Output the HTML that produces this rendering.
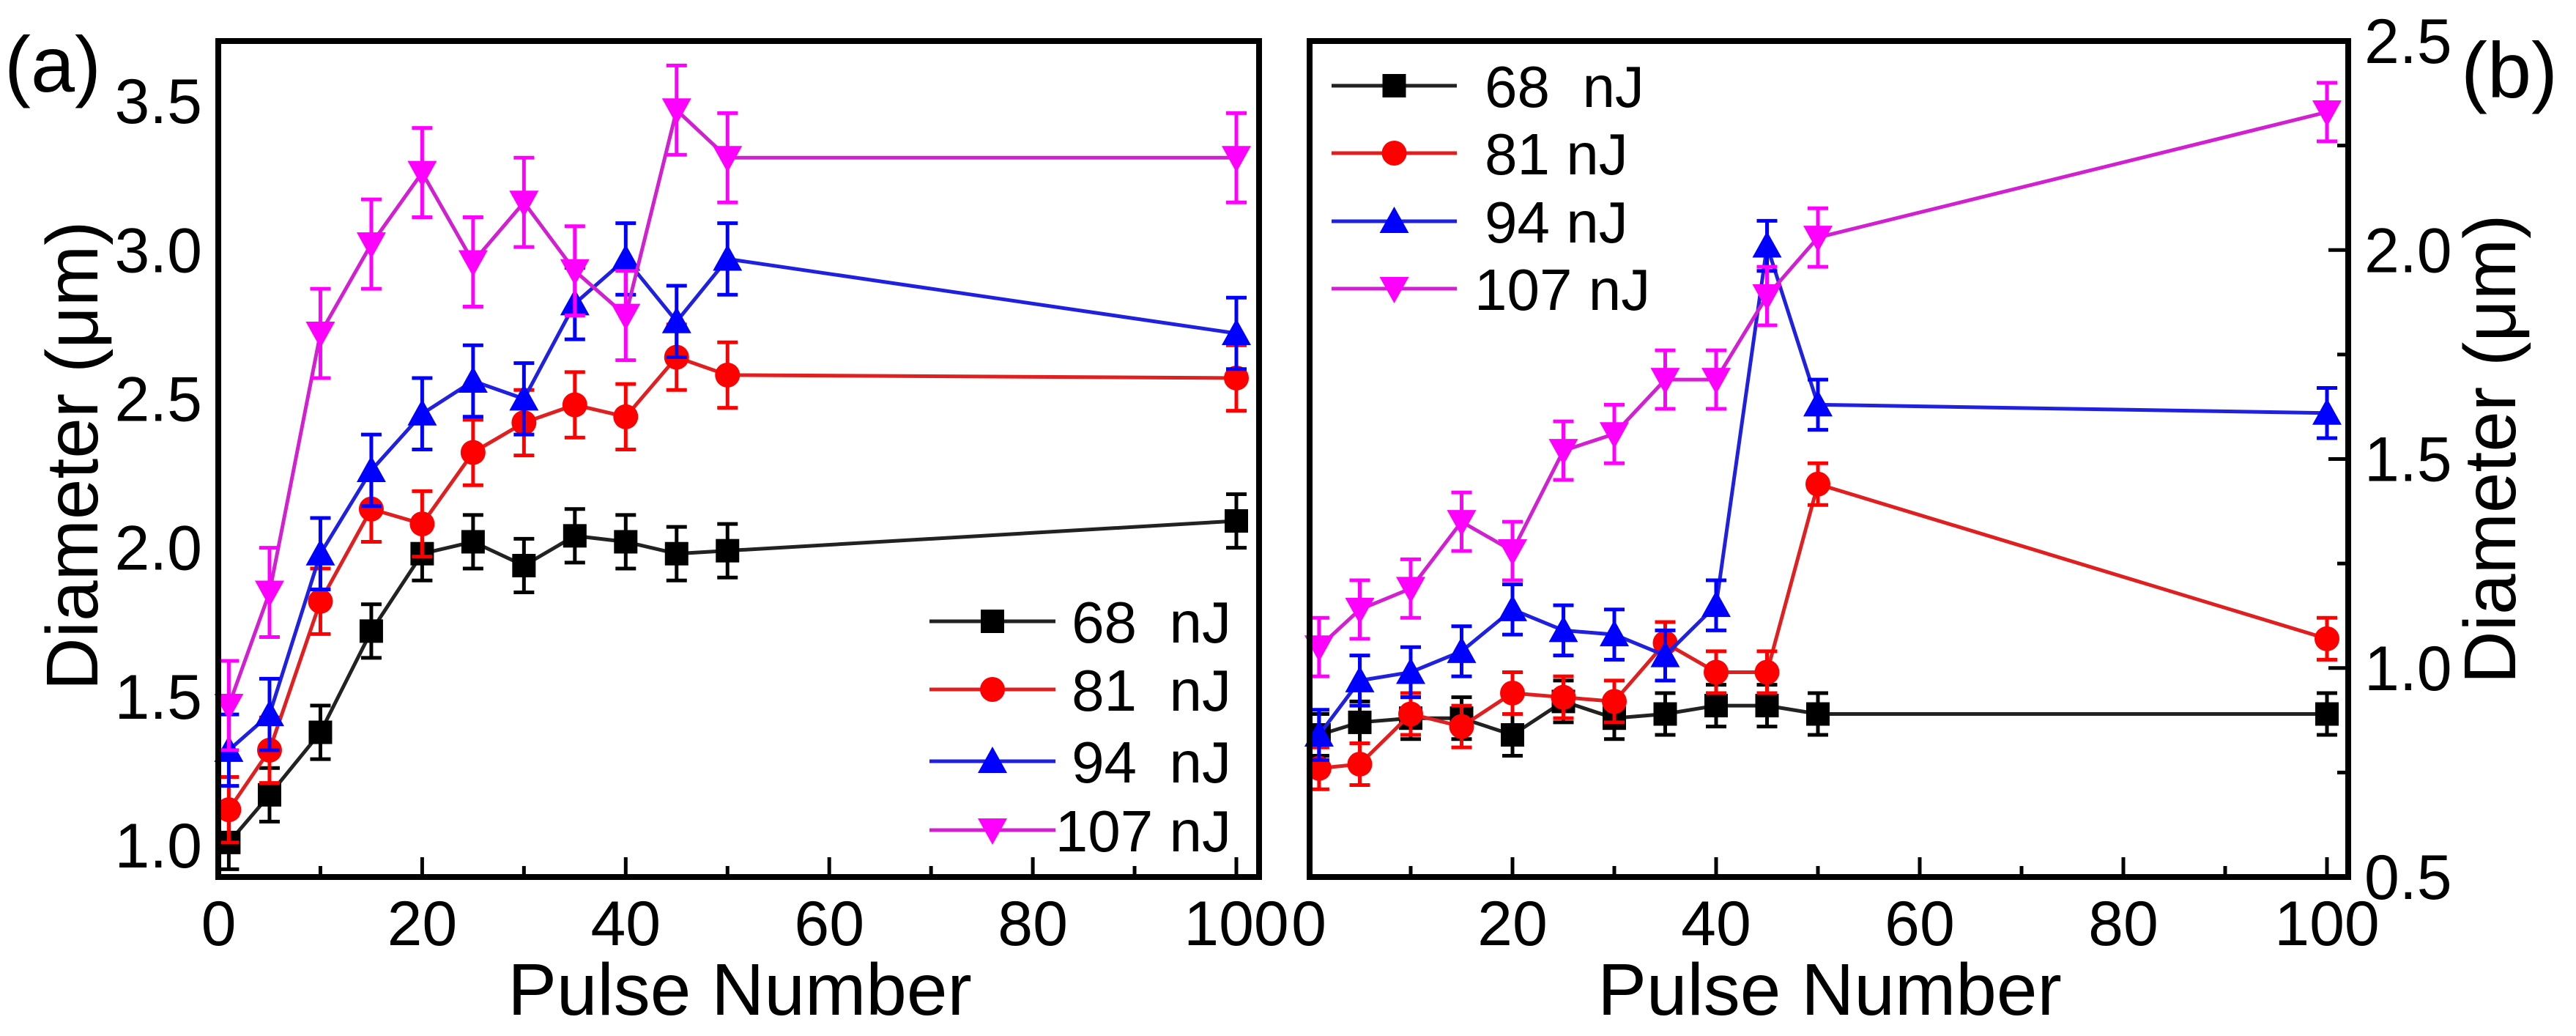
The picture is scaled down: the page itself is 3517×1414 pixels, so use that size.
<!DOCTYPE html>
<html><head><meta charset="utf-8"><style>
html,body{margin:0;padding:0;background:#fff;}
svg{display:block;font-family:"Liberation Sans",Arial,sans-serif;}
</style></head><body>
<svg id="fig" width="3517" height="1414" viewBox="0 0 3517 1414" xmlns="http://www.w3.org/2000/svg"></svg>
<script>
const pulses = [1,5,10,15,20,25,30,35,40,45,50,100];
const seriesNames = ["68\u00a0\u00a0nJ","81\u00a0\u00a0nJ","94\u00a0\u00a0nJ","107\u00a0nJ"];
const seriesNamesB = ["68\u00a0\u00a0nJ","81\u00a0nJ","94\u00a0nJ","107\u00a0nJ"];
const colors = ["#000000","#ff0000","#0000ff","#ff00ff"];
const lineColors = ["#222222","#e02020","#2020e0","#d020d0"];
const markers = ["square","circle","up","down"];
const a68 = [1.01,1.17,1.38,1.72,1.98,2.02,1.94,2.04,2.02,1.98,1.99,2.09];
const a81 = [1.12,1.32,1.82,2.13,2.08,2.32,2.42,2.48,2.44,2.64,2.58,2.57];
const a94 = [1.32,1.44,1.98,2.26,2.45,2.56,2.50,2.82,2.97,2.76,2.97,2.72];
const a107 = [1.47,1.85,2.72,3.02,3.26,2.96,3.16,2.93,2.78,3.47,3.31,3.31];
const aErr = [0.09,0.11,0.12,0.15];
const b68 = [0.84,0.87,0.88,0.88,0.84,0.92,0.88,0.89,0.91,0.91,0.89,0.89];
const b81 = [0.76,0.77,0.89,0.86,0.94,0.93,0.92,1.06,0.99,0.99,1.44,1.07];
const b94 = [0.84,0.97,0.99,1.04,1.14,1.09,1.08,1.03,1.15,2.01,1.63,1.61];
const b107 = [1.05,1.14,1.19,1.35,1.28,1.52,1.56,1.69,1.69,1.89,2.03,2.33];
const bErr = [0.05,0.05,0.06,0.07];
const xTicks = [0,20,40,60,80,100];
const aYTicks = ["1.0","1.5","2.0","2.5","3.0","3.5"];
const bYTicks = ["0.5","1.0","1.5","2.0","2.5"];

const NS="http://www.w3.org/2000/svg";
const svg=document.getElementById('fig');
function mk(tag,attrs,parent){const e=document.createElementNS(NS,tag);for(const k in attrs)e.setAttribute(k,attrs[k]);(parent||svg).appendChild(e);return e;}

function panel(cfg){
  const g=mk('g',{});
  
  
  const {L,R,T,B}=cfg;
  const sx=v=>cfg.x0px+(v-0)*(cfg.x100px-cfg.x0px)/100;
  const sy=v=>B-(v-cfg.ymin)*(B-T)/(cfg.ymax-cfg.ymin);
  for(let v=0;v<=100;v+=10){
    const x=sx(v);const len=(v%20===0)?27:15;
    const t=mk('line',{x1:x,x2:x,y1:B,y2:B-len,stroke:'#000','stroke-width':5},g);
    
  }
  xTicks.forEach(v=>{
    const tx=mk('text',{x:sx(v),y:1290,'font-size':86,'text-anchor':'middle'},g);
    tx.textContent=v;
    
  });
  for(let v=cfg.ymin;v<=cfg.ymax+1e-9;v+=0.05){
    const r=Math.round(v*100)/100;
    const q=Math.round(r*4)/4; if(Math.abs(q-r)>1e-6) continue;
    const y=sy(q);const major=Math.abs(Math.round(q*2)-q*2)<1e-6;const len=major?27:15;
    const ax=cfg.side==='left'?L:R;const dir=cfg.side==='left'?1:-1;
    const t=mk('line',{x1:ax,x2:ax+dir*len,y1:y,y2:y,stroke:'#000','stroke-width':5},g);
    
  }
  cfg.yTicks.forEach(s=>{
    const v=parseFloat(s);
    const tx=mk('text',cfg.side==='left'?{x:L-22,y:sy(v)+30,'font-size':86,'text-anchor':'end'}:{x:R+22,y:sy(v)+30,'font-size':86,'text-anchor':'start'},g);
    tx.textContent=s;
    
  });
  cfg.data.forEach((vals,si)=>{
    const sg=mk('g',{},g);
    
    
    const pts=vals.map((v,i)=>sx(pulses[i])+','+sy(v)).join(' ');
    mk('polyline',{points:pts,fill:'none',stroke:lineColors[si],'stroke-width':5},sg);
    vals.forEach((v,i)=>{
      const x=sx(pulses[i]);const e=cfg.err[si];
      const y1=sy(v+e),y2=sy(v-e);
      const eb=mk('path',{d:`M${x},${y1}V${y2}M${x-14},${y1}H${x+14}M${x-14},${y2}H${x+14}`,stroke:colors[si],'stroke-width':5,fill:'none'},sg);
      
      const m=drawMarker(markers[si],x,sy(v),colors[si],sg);
      
    });
  });
  const fr=mk('rect',{x:L,y:T,width:R-L,height:B-T,fill:'none',stroke:'#000','stroke-width':8},g);
  
  cfg.legend.ys.forEach((y,si)=>{
    const lg=mk('g',{},g);
    
    mk('line',{x1:cfg.legend.x1,x2:cfg.legend.x2,y1:y,y2:y,stroke:lineColors[si],'stroke-width':5},lg);
    drawMarker(markers[si],(cfg.legend.x1+cfg.legend.x2)/2,y,colors[si],lg);
    const t=mk('text',{x:cfg.legend.tx[si],y:y+29,'font-size':80,'text-anchor':cfg.legend.anchor},lg);
    t.textContent=cfg.legendNames[si];
  });
  return g;
}
function drawMarker(type,x,y,c,parent){
  const s=16;
  if(type==='square')return mk('rect',{x:x-s,y:y-s,width:2*s,height:2*s,fill:c},parent);
  if(type==='circle')return mk('circle',{cx:x,cy:y,r:s+1,fill:c},parent);
  if(type==='up')return mk('polygon',{points:`${x},${y-s-4} ${x+s+4},${y+s} ${x-s-4},${y+s}`,fill:c},parent);
  return mk('polygon',{points:`${x-s-4},${y-s} ${x+s+4},${y-s} ${x},${y+s+4}`,fill:c},parent);
}
panel({name:'panel-a',L:298,R:1719,T:56,B:1197,x0px:298.5,x100px:1688,ymin:0.894,ymax:3.702,
  yTicks:aYTicks,side:'left',data:[a68,a81,a94,a107],err:aErr,
  legend:{x1:1269,x2:1441,tx:[1681,1681,1681,1681],anchor:'end',ys:[848,941,1039,1133]},legendNames:seriesNames});
panel({name:'panel-b',L:1788,R:3206,T:56,B:1197,x0px:1787,x100px:3177,ymin:0.5,ymax:2.5,
  yTicks:bYTicks,side:'right',data:[b68,b81,b94,b107],err:bErr,
  legend:{x1:1818,x2:1989,tx:[2027,2027,2027,2013],anchor:'start',ys:[117,209,302,394]},legendNames:seriesNamesB});
function label(txt,attrs,name){const t=mk('text',attrs);t.textContent=txt;
  }
label('(a)',{x:6,y:125,'font-size':108},'panel-a-label');
label('(b)',{x:3360,y:133,'font-size':108},'panel-b-label');
label('Pulse Number',{x:1010,y:1385,'font-size':100,'text-anchor':'middle'},'x-axis-title-a');
label('Pulse Number',{x:2498,y:1385,'font-size':100,'text-anchor':'middle'},'x-axis-title-b');
label('Diameter (μm)',{x:0,y:0,'font-size':100,'text-anchor':'middle',transform:'translate(133,622) rotate(-90)'},'y-axis-title-a');
label('Diameter (μm)',{x:0,y:0,'font-size':100,'text-anchor':'middle',transform:'translate(3434,613) rotate(-90)'},'y-axis-title-b');
</script>
</body></html>
